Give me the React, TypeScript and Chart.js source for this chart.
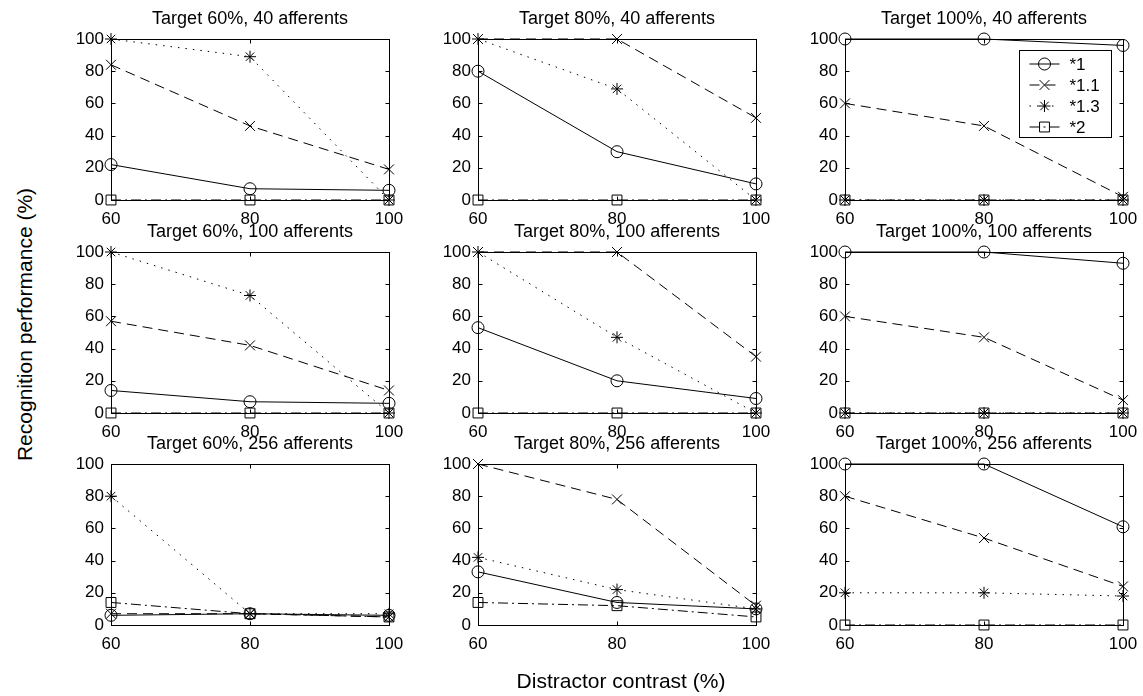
import React, { useEffect, useRef } from 'react';
import { Chart, registerables } from 'chart.js';
import { drawPoint } from 'chart.js/helpers';

Chart.register(...registerables);

// ---------- data ----------
const xValues = [60, 80, 100];
const yTicks = [0, 20, 40, 60, 80, 100];
const targetLabels = ['Target 60%', 'Target 80%', 'Target 100%'];
const afferentLabels = ['40 afferents', '100 afferents', '256 afferents'];
const seriesNames = ['*1', '*1.1', '*1.3', '*2'];

// panels in reading order: rows = afferents (40, 100, 256), cols = target (60, 80, 100)
const series1 = [
  [22, 7, 6], [80, 30, 10], [100, 100, 96],
  [14, 7, 6], [53, 20, 9], [100, 100, 93],
  [6, 7, 6], [33, 14, 10], [100, 100, 61],
];
const series1_1 = [
  [84, 46, 19], [100, 100, 51], [60, 46, 2],
  [57, 42, 14], [100, 100, 35], [60, 47, 8],
  [7, 7, 5], [100, 78, 12], [80, 54, 24],
];
const series1_3 = [
  [100, 89, 0], [100, 69, 0], [0, 0, 0],
  [100, 73, 0], [100, 47, 0], [0, 0, 0],
  [80, 7, 7], [42, 22, 10], [20, 20, 18],
];
const series2 = [
  [0, 0, 0], [0, 0, 0], [0, 0, 0],
  [0, 0, 0], [0, 0, 0], [0, 0, 0],
  [14, 7, 5], [14, 12, 5], [0, 0, 0],
];

const xAxisTitle = 'Distractor contrast (%)';
const yAxisTitle = 'Recognition performance (%)';

// ---------- layout / style ----------
const FONT = "'Liberation Sans', Arial, Helvetica, sans-serif";
const colLeft = [111, 478, 845];
const rowTop = [39, 252, 464];
const PLOT_W = 278;
const PLOT_H = 161;
const PAD_L = 55;
const PAD_R = 55;
const PAD_T = 39;
const PAD_B = 32;
const CW = PAD_L + PLOT_W + PAD_R;
const CH = PAD_T + PLOT_H + PAD_B;

const seriesStyles = [
  { dash: [] as number[], pointStyle: 'circle', radius: 6 },
  { dash: [10, 6], pointStyle: 'crossRot', radius: 7 },
  { dash: [1.5, 6], pointStyle: 'star', radius: 6 },
  { dash: [10, 4, 2, 4], pointStyle: 'rect', radius: 7 },
];

const framePlugin = {
  id: 'frameTicks',
  beforeDatasetsDraw(chart: any) {
    const { ctx, chartArea: a, scales } = chart;
    const l = Math.round(a.left) + 0.5;
    const r = Math.round(a.right) + 0.5;
    const t = Math.round(a.top) + 0.5;
    const b = Math.round(a.bottom) + 0.5;
    ctx.save();
    ctx.strokeStyle = '#000';
    ctx.lineWidth = 1;
    ctx.setLineDash([]);
    ctx.strokeRect(l, t, r - l, b - t);
    const L = 4;
    ctx.beginPath();
    scales.x.ticks.forEach((tk: any) => {
      const px = Math.round(scales.x.getPixelForValue(tk.value)) + 0.5;
      ctx.moveTo(px, b);
      ctx.lineTo(px, b - L);
      ctx.moveTo(px, t);
      ctx.lineTo(px, t + L);
    });
    scales.y.ticks.forEach((tk: any) => {
      const py = Math.round(scales.y.getPixelForValue(tk.value)) + 0.5;
      ctx.moveTo(l, py);
      ctx.lineTo(l + L, py);
      ctx.moveTo(r, py);
      ctx.lineTo(r - L, py);
    });
    ctx.stroke();
    ctx.restore();
  },
};

const boxLegendPlugin = {
  id: 'boxLegend',
  afterDraw(chart: any, _args: any, opts: any) {
    if (!opts || !opts.show) return;
    const { ctx, chartArea: a } = chart;
    const w = 92;
    const h = 87;
    const x0 = Math.round(a.right - 12 - w) + 0.5;
    const y0 = Math.round(a.top + 11) + 0.5;
    ctx.save();
    ctx.fillStyle = '#fff';
    ctx.fillRect(x0, y0, w, h);
    ctx.strokeStyle = '#000';
    ctx.lineWidth = 1;
    ctx.setLineDash([]);
    ctx.strokeRect(x0, y0, w, h);
    chart.data.datasets.forEach((ds: any, i: number) => {
      const y = Math.round(y0 + 13 + i * 21.1);
      ctx.setLineDash(ds.borderDash || []);
      ctx.beginPath();
      ctx.moveTo(x0 + 10, y);
      ctx.lineTo(x0 + 40, y);
      ctx.stroke();
      ctx.setLineDash([]);
      ctx.fillStyle = 'rgba(0,0,0,0)';
      drawPoint(ctx, { pointStyle: ds.pointStyle, radius: ds.pointRadius, borderWidth: 1, rotation: 0 } as any, x0 + 25, y);
      ctx.fillStyle = '#000';
      ctx.font = `17px ${FONT}`;
      ctx.textBaseline = 'middle';
      ctx.textAlign = 'left';
      ctx.fillText(ds.label, x0 + 50, y + 1);
    });
    ctx.restore();
  },
};

function makeConfig(i: number): any {
  const col = i % 3;
  const row = Math.floor(i / 3);
  const all = [series1, series1_1, series1_3, series2];
  const datasets = all.map((s, k) => ({
    label: seriesNames[k],
    data: xValues.map((x, j) => ({ x, y: s[i][j] })),
    borderColor: '#000',
    borderWidth: 1,
    borderDash: seriesStyles[k].dash,
    pointStyle: seriesStyles[k].pointStyle,
    pointRadius: seriesStyles[k].radius,
    pointBorderColor: '#000',
    pointBackgroundColor: 'rgba(0,0,0,0)',
    pointBorderWidth: 1,
    fill: false,
    tension: 0,
    clip: false,
  }));
  const tickFont = { family: FONT, size: 17 };
  return {
    type: 'line',
    data: { datasets },
    plugins: [framePlugin, boxLegendPlugin],
    options: {
      responsive: false,
      animation: false,
      devicePixelRatio: 1,
      events: [],
      layout: { padding: { left: 0, right: PAD_R, top: 0, bottom: 0 } },
      plugins: {
        legend: { display: false },
        tooltip: { enabled: false },
        title: {
          display: true,
          fullSize: false,
          text: `${targetLabels[col]}, ${afferentLabels[row]}`,
          color: '#000',
          font: { family: FONT, size: 18, weight: 'normal' },
          padding: { top: 8, bottom: 9.4 },
        },
        boxLegend: { show: i === 2 },
      },
      scales: {
        x: {
          type: 'linear',
          min: 60,
          max: 100,
          afterBuildTicks: (s: any) => {
            s.ticks = xValues.map((v) => ({ value: v }));
          },
          afterFit: (s: any) => {
            s.height = PAD_B;
          },
          grid: { display: false, drawTicks: false, tickLength: 0 },
          border: { display: false },
          ticks: { color: '#000', font: tickFont, padding: 9, maxRotation: 0, autoSkip: false },
        },
        y: {
          type: 'linear',
          min: 0,
          max: 100,
          afterBuildTicks: (s: any) => {
            s.ticks = yTicks.map((v) => ({ value: v }));
          },
          afterFit: (s: any) => {
            s.width = PAD_L;
          },
          grid: { display: false, drawTicks: false, tickLength: 0 },
          border: { display: false },
          ticks: { color: '#000', font: tickFont, padding: 7 },
        },
      },
    },
  };
}

function Panel({ index }: { index: number }) {
  const ref = useRef<HTMLCanvasElement | null>(null);
  useEffect(() => {
    if (!ref.current) return;
    const chart = new Chart(ref.current, makeConfig(index));
    return () => chart.destroy();
  }, [index]);
  const col = index % 3;
  const row = Math.floor(index / 3);
  return (
    <canvas
      ref={ref}
      width={CW}
      height={CH}
      style={{ position: 'absolute', left: colLeft[col] - PAD_L, top: rowTop[row] - PAD_T, width: CW, height: CH }}
    />
  );
}

export default function App() {
  const panels = [0, 1, 2, 3, 4, 5, 6, 7, 8];
  return (
    <div style={{ position: 'absolute', left: 0, top: 0, width: 1143, height: 696, background: '#fff', overflow: 'hidden' }}>
      {panels.map((i) => (
        <Panel key={i} index={i} />
      ))}
      <div
        style={{
          position: 'absolute',
          left: 421,
          top: 670,
          width: 400,
          textAlign: 'center',
          fontFamily: FONT,
          fontSize: 21,
          lineHeight: '21px',
          color: '#000',
          whiteSpace: 'nowrap',
        }}
      >
        {xAxisTitle}
      </div>
      <div
        style={{
          position: 'absolute',
          left: 24 - 200,
          top: 324 - 10.5,
          width: 400,
          height: 21,
          textAlign: 'center',
          fontFamily: FONT,
          fontSize: 21,
          lineHeight: '21px',
          color: '#000',
          whiteSpace: 'nowrap',
          transform: 'rotate(-90deg)',
          transformOrigin: '50% 50%',
        }}
      >
        {yAxisTitle}
      </div>
    </div>
  );
}
